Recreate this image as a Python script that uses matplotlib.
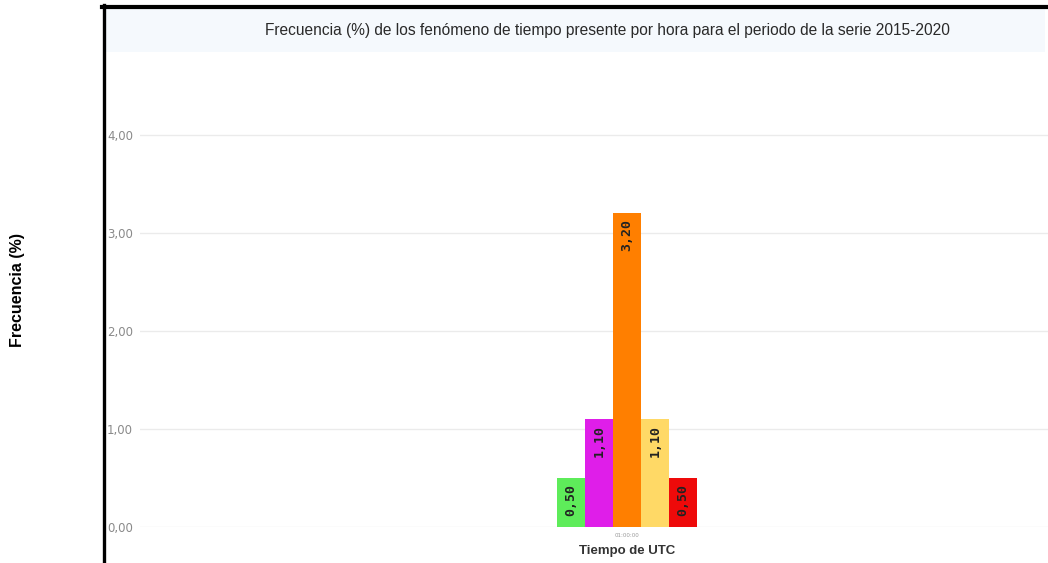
import numpy as np
import matplotlib
matplotlib.use('Agg')
from matplotlib import pyplot as plt
from matplotlib.patches import Rectangle
from matplotlib.lines import Line2D

# datos
hora = '01:00:00'
valores = [0.50, 1.10, 3.20, 1.10, 0.50]
etiquetas = ['0,50', '1,10', '3,20', '1,10', '0,50']
colores = ['#5eec5a', '#df1ee9', '#ff7f00', '#ffd966', '#ee0a0a']
yticks = [0, 1, 2, 3, 4]
ytick_labels = ['0,00', '1,00', '2,00', '3,00', '4,00']

W, H = 1048, 563
fig = plt.figure(figsize=(W / 100, H / 100), dpi=100)


def px(x0, y0, x1, y1):
    # caja en pixeles -> coordenadas de figura
    return [x0 / W, 1 - y1 / H, (x1 - x0) / W, (y1 - y0) / H]


# banda del titulo
fig.patches.append(Rectangle((105 / W, 1 - 52 / H), 940 / W, 43 / H,
                             transform=fig.transFigure, facecolor='#f5f9fd',
                             edgecolor='none', zorder=0))
fig.text(607 / W, 1 - 30 / H,
         'Frecuencia (%) de los fenómeno de tiempo presente por hora para el periodo de la serie 2015-2020',
         ha='center', va='center', fontsize=11.2, color='#2a2a2a',
         family='Liberation Sans')

# marco negro
fig.lines.append(Line2D([103.5 / W, 103.5 / W], [0, 1 - 5 / H], transform=fig.transFigure,
                        color='black', lw=2.4))
fig.lines.append(Line2D([102 / W, 1], [1 - 7 / H, 1 - 7 / H], transform=fig.transFigure,
                        color='black', lw=3))

ax = fig.add_axes(px(140, 52, 1048, 527))
ax.set_zorder(1)
ax.patch.set_alpha(0)

n = len(valores)
offs = np.arange(n) - (n - 1) / 2
for o, v, c, t in zip(offs, valores, colores, etiquetas):
    ax.bar(o, v, width=1, color=c, zorder=2)
    ax.annotate(t, (o, v), xytext=(0, -6), textcoords='offset pixels',
                rotation=90, ha='center', va='top', fontsize=9.5,
                fontweight='bold', family='DejaVu Sans Mono', color='#222222')

ax.set_xlim(-487 / 28, 421 / 28)
ax.set_ylim(0, 475 / 98)
ax.set_yticks(yticks)
ax.set_yticklabels(ytick_labels)
ax.set_xticks([0])
ax.set_xticklabels([hora])
ax.tick_params(axis='x', length=0, labelsize=4, labelcolor='#999999', pad=4)
ax.tick_params(axis='y', length=0, labelsize=8.5, labelcolor='#8a8a8a', pad=5)
ax.grid(axis='y', color='#ebebeb', lw=1, zorder=0)
for s in ax.spines.values():
    s.set_visible(False)

fig.text(627 / W, 1 - 551 / H, 'Tiempo de UTC', ha='center', va='center',
         fontsize=9.5, fontweight='bold', color='#333333', family='Liberation Sans')
fig.text(18 / W, 1 - 290 / H, 'Frecuencia (%)', ha='center', va='center',
         rotation=90, fontsize=11.5, fontweight='bold', color='black',
         family='Liberation Sans')

plt.savefig('out.png', dpi=100)
